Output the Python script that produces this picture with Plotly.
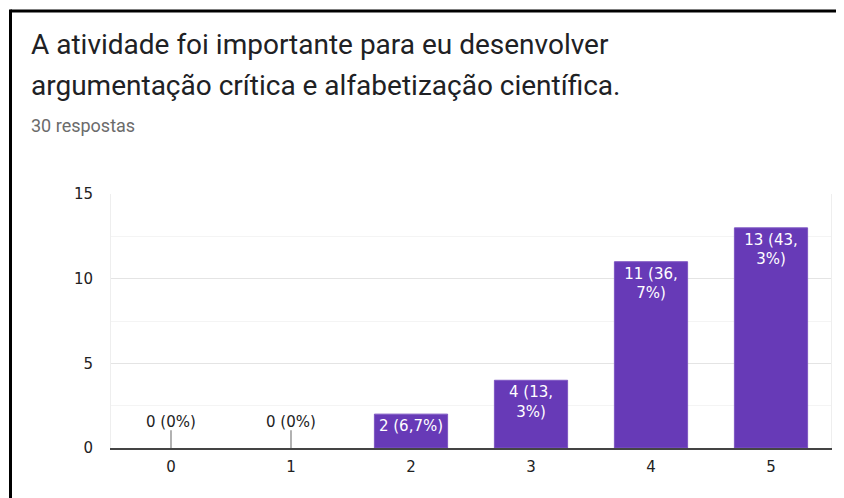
import plotly.graph_objects as go

# ---- data ----
categories = ["0", "1", "2", "3", "4", "5"]
counts = [0, 0, 2, 4, 11, 13]
bar_labels = ["0 (0%)", "0 (0%)", "2 (6,7%)", "4 (13,<br>3%)", "11 (36,<br>7%)", "13 (43,<br>3%)"]
y_ticks = [0, 5, 10, 15]
title_line1 = "A atividade foi importante para eu desenvolver"
title_line2 = "argumentação crítica e alfabetização científica."
subtitle = "30 respostas"

# page is shown with an 8px body margin, so work in page pixels and shift
OFF = 8
W, H = 844 - OFF, 498 - OFF
PL, PR, PT, PB = 111, 831, 194, 448  # plot area in page pixels
L, R, T, B = PL - OFF, W - (PR - OFF), PT - OFF, H - (PB - OFF)
PW, PH = W - L - R, H - T - B

def px(x):
    return (x - OFF - L) / PW

def py(y):
    return (H - B - (y - OFF)) / PH

PURPLE = "#673ab7"
AXFONT = dict(family="DejaVu Sans, sans-serif", size=15, color="#222222")

fig = go.Figure()

fig.add_trace(go.Bar(
    x=categories,
    y=counts,
    marker=dict(color=PURPLE, line=dict(color="#7e57c2", width=[1 if v > 0 else 0 for v in counts])),
    text=[lbl if v > 0 else "" for lbl, v in zip(bar_labels, counts)],
    textposition="inside",
    insidetextanchor="end",
    textangle=0,
    textfont=dict(family="DejaVu Sans, sans-serif", size=15, color="white"),
    constraintext="none",
    hoverinfo="skip",
    showlegend=False,
))

# small stems for zero-valued categories
zx = [c for c, v in zip(categories, counts) if v == 0]
zy = [v for v in counts if v == 0]
fig.add_trace(go.Scatter(
    x=zx, y=zy, mode="markers",
    marker=dict(size=0.1, color="rgba(0,0,0,0)"),
    error_y=dict(type="data", symmetric=False, array=[1.05] * len(zx), arrayminus=[0] * len(zx),
                 width=0, thickness=1.3, color="#888888"),
    hoverinfo="skip", showlegend=False,
))

annotations = []
for c, v, lbl in zip(categories, counts, bar_labels):
    if v == 0:
        annotations.append(dict(x=c, y=v, xref="x", yref="y", text=lbl, showarrow=False,
                                yshift=26, font=AXFONT))

annotations += [
    dict(x=px(29), y=py(45), xref="paper", yref="paper", text=title_line1, showarrow=False,
         xanchor="left", yanchor="middle", font=dict(family="Roboto, sans-serif", size=28, color="#202124")),
    dict(x=px(29), y=py(85), xref="paper", yref="paper", text=title_line2, showarrow=False,
         xanchor="left", yanchor="middle", font=dict(family="Roboto, sans-serif", size=28, color="#202124")),
    dict(x=px(29), y=py(125), xref="paper", yref="paper", text=subtitle, showarrow=False,
         xanchor="left", yanchor="middle", font=dict(family="Roboto, sans-serif", size=18, color="#6b6b6b")),
]

shapes = [
    dict(type="line", xref="paper", yref="paper", x0=px(10.5), x1=px(850), y0=py(11), y1=py(11),
         line=dict(color="black", width=3)),
    dict(type="line", xref="paper", yref="paper", x0=px(10.5), x1=px(10.5), y0=py(9.5), y1=py(505),
         line=dict(color="black", width=3)),
]

fig.update_layout(
    width=W, height=H,
    margin=dict(l=L, r=R, t=T, b=B),
    paper_bgcolor="white", plot_bgcolor="white",
    bargap=0.39,
    annotations=annotations,
    shapes=shapes,
    xaxis=dict(
        type="category", showgrid=False, showline=True, linecolor="#444444", linewidth=2,
        ticks="", tickfont=AXFONT, ticklabelstandoff=4, zeroline=False,
    ),
    yaxis=dict(
        range=[0, 15], tickvals=y_ticks, showgrid=True, gridcolor="#e4e4e4", gridwidth=1,
        minor=dict(dtick=2.5, tick0=0, showgrid=True, gridcolor="#f4f4f4", gridwidth=1),
        showline=True, mirror=True, linecolor="#eeeeee", linewidth=1,
        ticks="", tickfont=AXFONT, ticklabelstandoff=14, zeroline=False,
    ),
)

fig.write_html("out.html")
